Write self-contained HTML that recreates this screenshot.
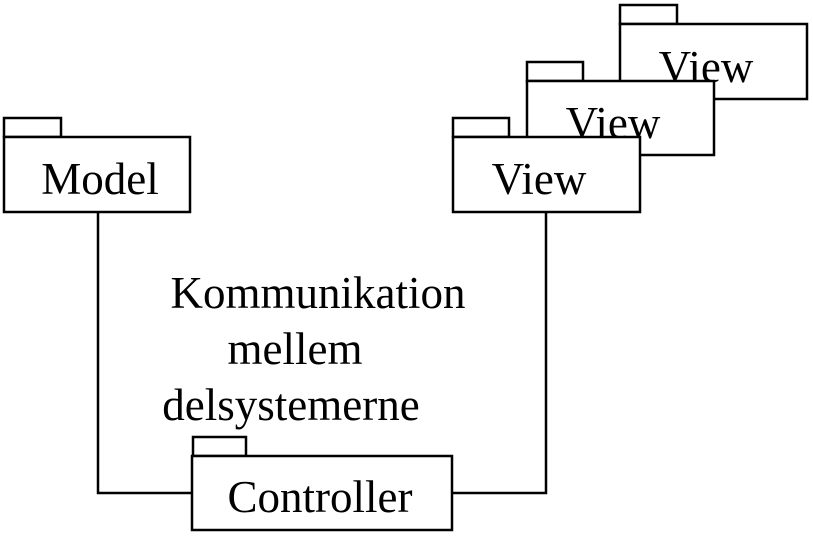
<!DOCTYPE html>
<html><head><style>html,body{margin:0;padding:0;background:#fff}</style></head><body>
<svg width="813" height="537" xmlns="http://www.w3.org/2000/svg" style="display:block">
<g fill="#fff" stroke="#000" stroke-width="2.5">
<polyline points="98,212 98,493 192,493" fill="none"/>
<polyline points="452,493 546,493 546,212" fill="none"/>
</g>
<g font-family="Liberation Serif, serif" font-size="45" text-anchor="middle" fill="#000">
<g stroke="#000" stroke-width="2.5" fill="#fff"><rect x="4" y="118" width="57" height="19"/><rect x="4" y="137" width="186" height="75"/></g>
<text x="100" y="194">Model</text>
<g stroke="#000" stroke-width="2.5" fill="#fff"><rect x="620" y="5" width="57" height="19"/><rect x="620" y="24" width="187" height="75"/></g>
<text x="706" y="82">View</text>
<g stroke="#000" stroke-width="2.5" fill="#fff"><rect x="527" y="62" width="56" height="19"/><rect x="527" y="81" width="187" height="74"/></g>
<text x="613" y="138">View</text>
<g stroke="#000" stroke-width="2.5" fill="#fff"><rect x="453" y="118" width="56" height="19"/><rect x="453" y="137" width="187" height="75"/></g>
<text x="539" y="194">View</text>
<g stroke="#000" stroke-width="2.5" fill="#fff"><rect x="193" y="437" width="53" height="19"/><rect x="192" y="456" width="260" height="74"/></g>
<text x="320" y="512">Controller</text>
<text x="318" y="308">Kommunikation</text>
<text x="295" y="364">mellem</text>
<text x="291" y="420">delsystemerne</text>
</g>
</svg>
</body></html>
